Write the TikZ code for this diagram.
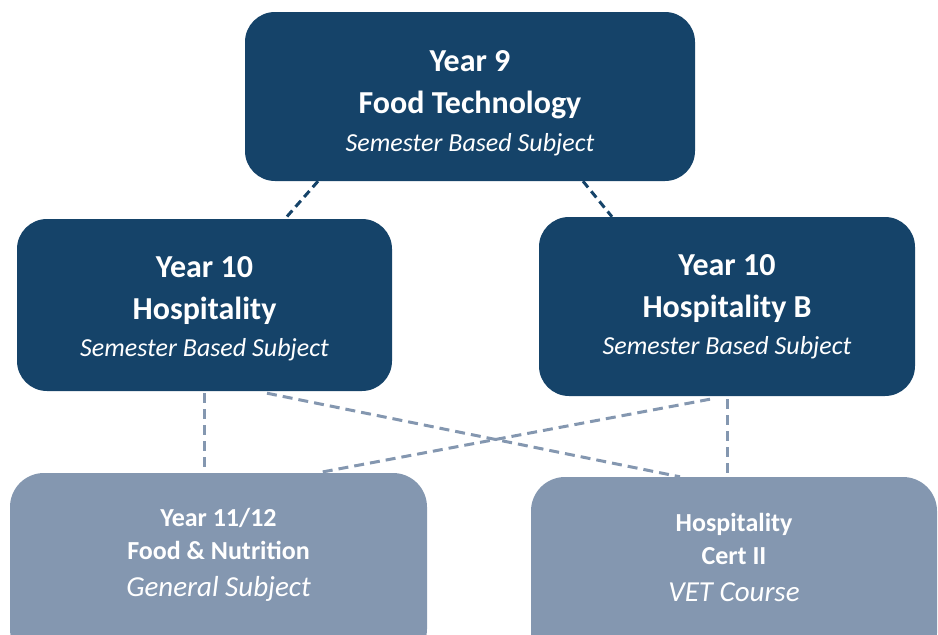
\documentclass[tikz,border=0pt]{standalone}
\usepackage{fontspec}
\setmainfont{Carlito}

\definecolor{navy}{RGB}{21,67,105}
\definecolor{slate}{RGB}{132,151,176}

\newcommand{\headline}[1]{{\fontsize{32}{40}\selectfont\bfseries #1}}
\newcommand{\kindline}[1]{{\fontsize{26}{40}\selectfont\itshape #1}}
\newcommand{\lowhead}[1]{{\fontsize{26}{35}\selectfont\bfseries #1}}
\newcommand{\lowkind}[1]{{\fontsize{29}{35}\selectfont\itshape #1}}

\tikzstyle{upper}=[rectangle, rounded corners=30pt, align=center, fill=navy, text=white, font=\fontsize{32}{40}\selectfont]
\tikzstyle{lower}=[rectangle, rounded corners=34pt, align=center, fill=slate, text=white, font=\fontsize{26}{35}\selectfont]
\tikzstyle{link}=[line width=3pt, dash pattern=on 8pt off 5pt, draw=navy]
\tikzstyle{crosslink}=[line width=3pt, dash pattern=on 10pt off 6pt, draw=slate]

\begin{document}
\begin{tikzpicture}[node distance=208.5pt]

\useasboundingbox (0,0) rectangle (938pt,-635pt);
\clip (0,0) rectangle (938pt,-635pt);

\node(y9)[upper, minimum width=450pt, minimum height=169pt] at (470pt,-96.5pt)
  {\headline{Year 9}\\[2pt]\headline{Food Technology}\\[-2pt]\kindline{Semester Based Subject}\\[-50pt]};
\node(y10a)[upper, minimum width=375pt, minimum height=172pt, below of=y9, xshift=-265.5pt]
  {\headline{Year 10}\\[2pt]\headline{Hospitality}\\[-3pt]\kindline{Semester Based Subject}\\[-44pt]};
\node(y10b)[upper, minimum width=376pt, minimum height=179pt, below of=y9, xshift=257pt, yshift=-1.5pt]
  {\headline{Year 10}\\[2pt]\headline{Hospitality B}\\[-3pt]\kindline{Semester Based Subject}};
\node(fn)[lower, minimum width=417pt, minimum height=190pt, below of=y10a, xshift=14pt, yshift=-54.5pt]
  {\lowhead{Year 11/12}\\[-2pt]\lowhead{Food \& Nutrition}\\[2pt]\lowkind{General Subject}\\[-3pt]};
\node(hosp)[lower, minimum width=406pt, minimum height=190pt, below of=y10b, xshift=7pt, yshift=-57pt]
  {\lowhead{Hospitality}\\[-2pt]\lowhead{Cert II}\\[2pt]\lowkind{VET Course}\\[-6pt]};

\draw[link]([xshift=-152pt]y9.south)--([xshift=80.5pt]y10a.north);
\draw[link]([xshift=113pt]y9.south)--([xshift=-115pt]y10b.north);

\draw[crosslink]([yshift=-2pt]y10a.south)--(y10a.south |- fn.north);
\draw[crosslink]([xshift=62.5pt, yshift=-2pt]y10a.south)--([xshift=-54pt]hosp.north);
\draw[crosslink]([xshift=-17pt, yshift=-3pt]y10b.south)--([xshift=99.5pt]fn.north);
\draw[crosslink]([yshift=-3pt]y10b.south)--(y10b.south |- hosp.north);

\end{tikzpicture}
\end{document}
